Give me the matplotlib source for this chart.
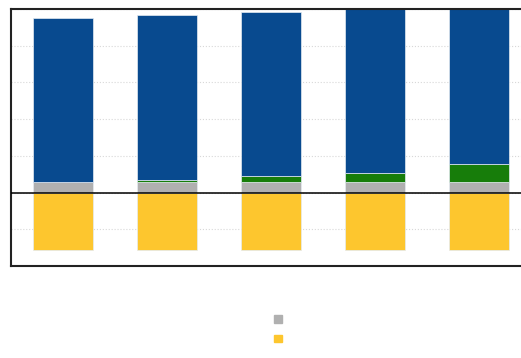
import matplotlib.pyplot as plt
from matplotlib.patches import Patch
import numpy as np

# five periods, no labels shown in the picture
cats = ['1', '2', '3', '4', '5']
gray = [0.28, 0.28, 0.28, 0.28, 0.28]
green = [0.0, 0.07, 0.16, 0.26, 0.50]
blue = [4.48, 4.49, 4.47, 4.60, 4.80]
yellow = [-1.57, -1.57, -1.57, -1.57, -1.57]

c_gray = '#b0b0b0'
c_green = '#177d0a'
c_blue = '#084a8f'
c_yellow = '#fdc62e'

fig = plt.figure(figsize=(5.21, 3.58), dpi=100)
ax = fig.add_axes([11/521, 92/358, 520/521, 257/358])

x = np.arange(len(cats))
w = 0.58
ec = '#e4ebf2'
ax.bar(x, gray, w, color=c_gray, edgecolor=ec, linewidth=0.5, zorder=2)
ax.bar(x, green, w, bottom=gray, color=c_green, edgecolor=ec, linewidth=0.5, zorder=2)
bot = np.array(gray) + np.array(green)
ax.bar(x, blue, w, bottom=bot, color=c_blue, edgecolor=ec, linewidth=0.5, zorder=2)
ax.bar(x, yellow, w, color=c_yellow, edgecolor=ec, linewidth=0.5, zorder=2)

ax.axhline(0, color='black', linewidth=1.1, zorder=3)
ax.set_xlim(-0.5, 4.5)
ax.set_ylim(-2, 5)
ax.set_yticks(range(-2, 6))
ax.grid(axis='y', color='#d8d8d8', linestyle=':', linewidth=0.8, zorder=0)
ax.tick_params(left=False, bottom=False, labelleft=False, labelbottom=False)
for s in ax.spines.values():
    s.set_color('#222222')
    s.set_linewidth(1.5)

fig.legend([Patch(color=c_gray), Patch(color=c_yellow)], ['', ''],
           loc='center', bbox_to_anchor=(278/521, 29/358), frameon=False,
           fontsize=7, handlelength=0.85, handleheight=0.85, labelspacing=1.0,
           handletextpad=0.0)

fig.savefig('out.png', dpi=100)
